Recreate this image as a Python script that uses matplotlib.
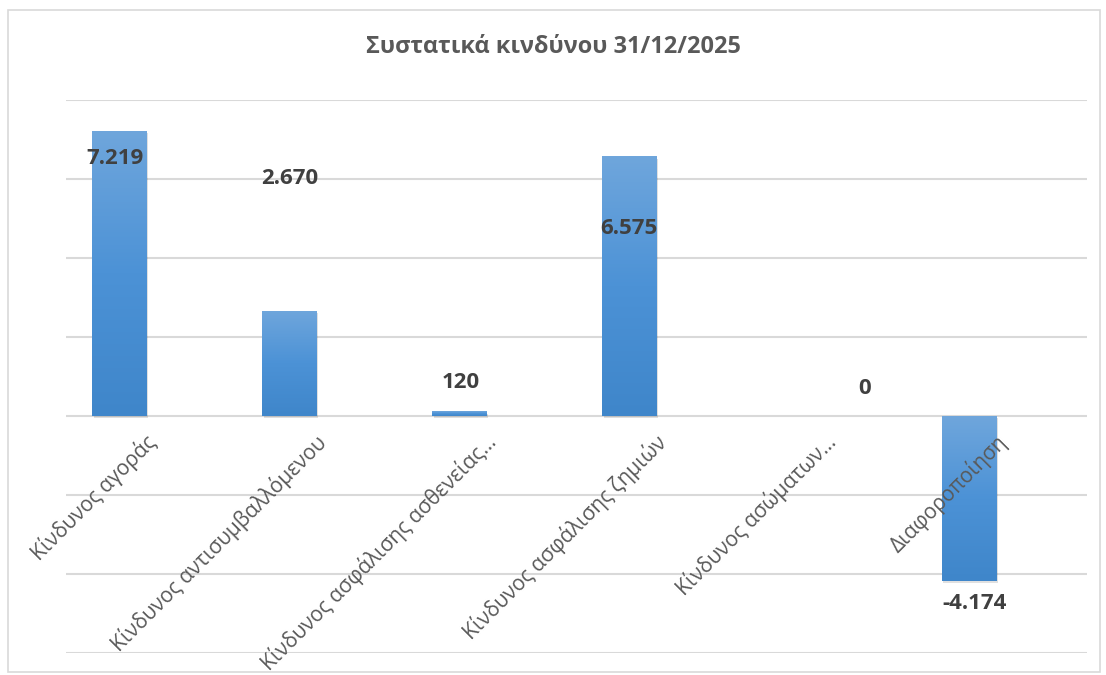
import matplotlib
matplotlib.use("Agg")
import matplotlib.pyplot as plt
import matplotlib.transforms as mtransforms
from matplotlib.colors import LinearSegmentedColormap
from matplotlib.patches import Rectangle
import numpy as np

plt.rcParams['font.family'] = ['Open Sans', 'Noto Sans', 'DejaVu Sans']

title = "Συστατικά κινδύνου 31/12/2025"
categories = [
    "Κίνδυνος αγοράς",
    "Κίνδυνος αντισυμβαλλόμενου",
    "Κίνδυνος ασφάλισης ασθενείας…",
    "Κίνδυνος ασφάλισης ζημιών",
    "Κίνδυνος ασώματων…",
    "Διαφοροποίηση",
]
values = [7219, 2670, 120, 6575, 0, -4174]
value_labels = ["7.219", "2.670", "120", "6.575", "0", "-4.174"]
gridlines = [-6000, -4000, -2000, 0, 2000, 4000, 6000, 8000]

# label offsets (pixels) from bar end, as placed in the original chart
label_dy = [-28, 132, 29, -72, 27, -23]
label_dx = [-4, 1, 2, 0, 66, 6]

fig = plt.figure(figsize=(11.06, 6.75), dpi=100)
fig.patches.append(Rectangle((8/1106, 1-672/675), 1092/1106, 662/675,
                             transform=fig.transFigure, fill=False,
                             edgecolor='#D9D9D9', linewidth=1.2))
ax = fig.add_axes([66/1106, 1-653/675, (1087-66)/1106, (653-100)/675])

x = np.arange(len(categories))
width = 0.32
bars = ax.bar(x, values, width=width, color='#5B9BD5', zorder=3, linewidth=0)

cmap = LinearSegmentedColormap.from_list('g', ['#6FA6DC', '#4C92D6', '#3F86CA'])
grad = np.linspace(0, 1, 256).reshape(-1, 1)
for b in bars:
    h = b.get_height()
    if h == 0:
        continue
    x0 = b.get_x(); x1 = x0 + b.get_width()
    y0 = min(b.get_y(), b.get_y() + h); y1 = max(b.get_y(), b.get_y() + h)
    sh = Rectangle((x0 + 0.01, y0 - 60), b.get_width(), y1 - y0, color='#000000',
                   alpha=0.12, zorder=2, linewidth=0)
    ax.add_patch(sh)
    im = ax.imshow(grad, extent=(x0, x1, y0, y1), origin='upper', cmap=cmap,
                   aspect='auto', zorder=4)
    im.set_clip_path(b)

step = 170 / 1021
ax.set_xlim(-53 / 170, -53 / 170 + 1 / step)
ax.set_ylim(gridlines[0], gridlines[-1])
for g in gridlines:
    ax.axhline(g, color='#D9D9D9', linewidth=1.5, zorder=0.5)
ax.set_yticks([])
for s in ['left', 'right', 'top', 'bottom']:
    ax.spines[s].set_visible(False)
ax.spines['bottom'].set_position(('data', 0))
ax.xaxis.set_zorder(10)
ax.set_xticks(x)
ax.set_xticklabels(categories, rotation=45, ha='right', va='top',
                   rotation_mode='anchor', fontsize=15, color='#595959')
ax.tick_params(axis='x', length=0, pad=0)
offset = mtransforms.ScaledTranslation(0.26, -0.15, fig.dpi_scale_trans)
for lbl in ax.get_xticklabels():
    lbl.set_transform(lbl.get_transform() + offset)

for xi, v, t, dx, dy in zip(x, values, value_labels, label_dx, label_dy):
    ax.annotate(t, xy=(xi, v), xytext=(dx, dy), textcoords='offset pixels',
                ha='center', va='center', fontsize=16, fontweight='bold',
                color='#404040', zorder=6)

fig.text(553/1106, 1-47/675, title, ha='center', va='center', fontsize=16.9,
         fontweight='bold', color='#595959')

fig.savefig('out.png', dpi=100)
